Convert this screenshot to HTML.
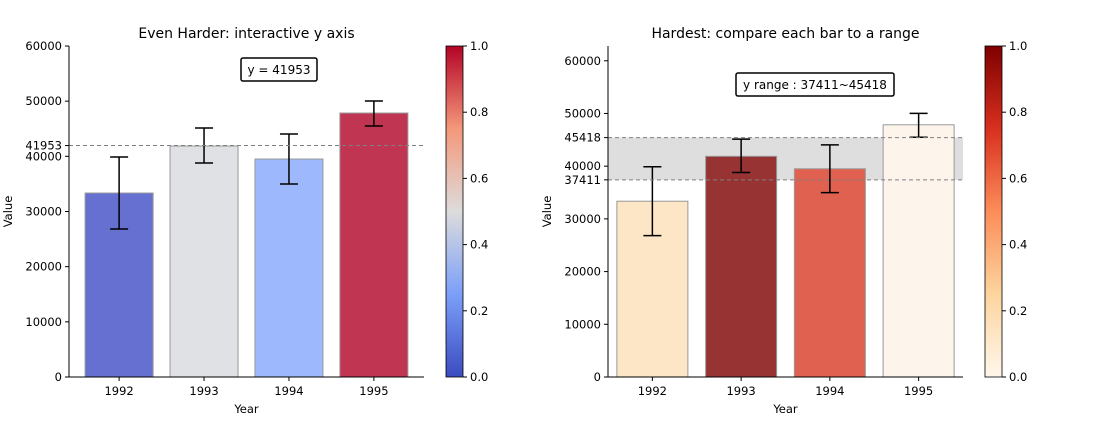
<!DOCTYPE html>
<html><head><meta charset="utf-8"><style>
body{margin:0;background:#fff;}
svg text{font-family:"DejaVu Sans","Liberation Sans",sans-serif;}
</style></head><body>
<svg id="c" width="1109" height="420" xmlns="http://www.w3.org/2000/svg">
<defs>
<linearGradient id="cw" x1="0" y1="1" x2="0" y2="0">
<stop offset="0" stop-color="#3b4cc0"/><stop offset="0.25" stop-color="#7b9ff9"/><stop offset="0.5" stop-color="#dddcdc"/><stop offset="0.75" stop-color="#f4987a"/><stop offset="1" stop-color="#b40426"/>
</linearGradient>
<linearGradient id="or" x1="0" y1="1" x2="0" y2="0">
<stop offset="0" stop-color="#fff7ec"/><stop offset="0.25" stop-color="#fdd49e"/><stop offset="0.5" stop-color="#fc8d59"/><stop offset="0.75" stop-color="#d7301f"/><stop offset="1" stop-color="#7f0000"/>
</linearGradient>
</defs>
</svg>
<script>
const years=['1992','1993','1994','1995'];
const means=[33350,41870,39510,47850];
const errLo=[26830,38790,34980,45490];
const errHi=[39880,45130,44040,50020];
const leftColors=['#6570d0','#dfe1e4','#9db8fd','#c03552'];
const rightColors=['#fde6c5','#973333','#e06150','#fdf5ec'];
const leftTicks=[0,10000,20000,30000,40000,50000,60000];
const rightTicks=[0,10000,20000,30000,40000,50000,60000];
const yLine=41953;
const rangeLo=37411, rangeHi=45418;
const cbTicks=[0,0.2,0.4,0.6,0.8,1.0];

const svg=document.getElementById('c');
const NS='http://www.w3.org/2000/svg';
function el(tag,attrs,parent,text){const e=document.createElementNS(NS,tag);for(const k in attrs)e.setAttribute(k,attrs[k]);if(text!==undefined)e.textContent=text;(parent||svg).appendChild(e);return e;}

function panel(p){
  const g=el('g',{});
  
  
  const y=v=>p.y0-(v-p.ymin)/(p.ymax-p.ymin)*(p.y0-p.y1);
  const x=i=>p.x0+(i-p.xmin)/(p.xmax-p.xmin)*(p.x1-p.x0);
  const t=el('text',{x:(p.x0+p.x1)/2,y:38,'text-anchor':'middle','font-size':14},g,p.title);
  
  if(p.range){
    const r=el('rect',{x:p.x0,y:y(rangeHi),width:p.x1-p.x0,height:y(rangeLo)-y(rangeHi),fill:'#dedede'},g);
    
  }
  means.forEach((m,i)=>{
    const b=el('rect',{x:x(i)-p.bw/2,y:y(m),width:p.bw,height:y(0)-y(m),fill:p.colors[i],stroke:'#999','stroke-width':1},g);
    
    const eg=el('g',{stroke:'#000','stroke-width':1.5},g);
    
    el('line',{x1:x(i),x2:x(i),y1:y(errLo[i]),y2:y(errHi[i])},eg);
    el('line',{x1:x(i)-9,x2:x(i)+9,y1:y(errLo[i]),y2:y(errLo[i])},eg);
    el('line',{x1:x(i)-9,x2:x(i)+9,y1:y(errHi[i]),y2:y(errHi[i])},eg);
    const tl=el('text',{x:x(i),y:p.y0+18,'text-anchor':'middle','font-size':11.5},g,years[i]);
    
    el('line',{x1:x(i),x2:x(i),y1:p.y0,y2:p.y0+4,stroke:'#000'},g);
  });
  const lines=p.range?[rangeLo,rangeHi]:[yLine];
  lines.forEach(v=>{
    const l=el('line',{x1:p.x0,x2:p.lineEnd,y1:y(v),y2:y(v),stroke:'#808080','stroke-dasharray':'4,3','stroke-width':1},g);
    
  });
  const ticks=p.ticks.slice();
  lines.forEach(v=>ticks.push(v));
  ticks.forEach(v=>{
    el('line',{x1:p.x0-4,x2:p.x0,y1:y(v),y2:y(v),stroke:'#000'},g);
    const tl=el('text',{x:p.x0-7,y:y(v)+4,'text-anchor':'end','font-size':11.5},g,String(v));
    
  });
  el('line',{x1:p.x0,x2:p.x0,y1:p.y1,y2:p.y0,stroke:'#000'},g);
  el('line',{x1:p.x0,x2:p.x1,y1:p.y0,y2:p.y0,stroke:'#000'},g);
  const xt=el('text',{x:(p.x0+p.x1)/2,y:413,'text-anchor':'middle','font-size':11.5},g,'Year');
  
  const yt=el('text',{x:0,y:0,'text-anchor':'middle','font-size':11.5,transform:`translate(${p.ylx},${(p.y0+p.y1)/2}) rotate(-90)`},g,'Value');
  
  const bx=el('g',{},g);
  el('rect',{x:p.box[0],y:p.box[1],width:p.box[2],height:p.box[3],fill:'#fff',stroke:'#000','stroke-width':1.5,rx:2},bx);
  el('text',{x:p.box[0]+p.box[2]/2,y:p.box[1]+16,'text-anchor':'middle','font-size':12},bx,p.label);
  const cb=el('g',{},g);
  el('rect',{x:p.cbx,y:46,width:17,height:331,fill:`url(#${p.grad})`,stroke:'#000','stroke-width':0.8},cb);
  cbTicks.forEach(v=>{
    const yy=377-v*331;
    el('line',{x1:p.cbx+17,x2:p.cbx+21,y1:yy,y2:yy,stroke:'#000'},cb);
    el('text',{x:p.cbx+24,y:yy+4,'font-size':11.5},cb,v.toFixed(1));
  });
}
panel({name:'left-chart',title:'Even Harder: interactive y axis',x0:69,x1:424,y0:377,y1:46,ymin:0,ymax:60000,xmin:-0.59,xmax:3.59,bw:68,colors:leftColors,ticks:leftTicks,range:false,lineEnd:424,ylx:12,box:[241,58,76,23],label:'y = '+yLine,cbx:446,grad:'cw'});
panel({name:'right-chart',title:'Hardest: compare each bar to a range',x0:608,x1:963,y0:377,y1:46,ymin:0,ymax:62800,xmin:-0.5,xmax:3.5,bw:71,colors:rightColors,ticks:[0,10000,20000,30000,40000,50000,60000],range:true,lineEnd:963,ylx:551,box:[736,73,158,23],label:'y range : '+rangeLo+'~'+rangeHi,cbx:985,grad:'or'});
</script>
</body></html>
